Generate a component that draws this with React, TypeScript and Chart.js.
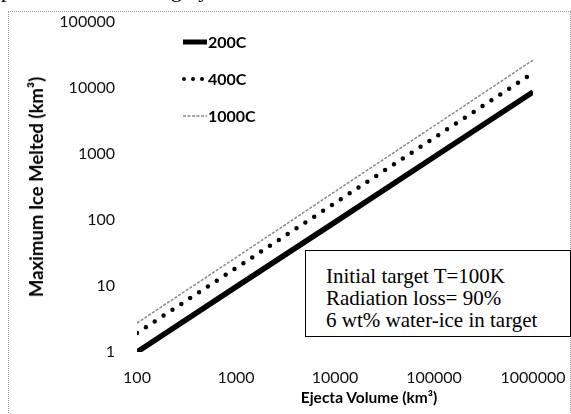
import React, { useEffect, useRef } from "react";
import { Chart, registerables } from "chart.js";

Chart.register(...registerables);

const ejectaVolume = [100, 1000, 10000, 100000, 1000000];
const ice200C = [1, 9.7, 93, 900, 8700];
const ice400C = [1.94, 18.7, 181, 1750, 16900];
const ice1000C = [2.75, 27, 270, 2660, 26500];
const seriesLabels = ["200C", "400C", "1000C"];
const yTickValues = [1, 10, 100, 1000, 10000, 100000];
const xTickValues = [100, 1000, 10000, 100000, 1000000];
const yTitle = "Maximum Ice Melted (km³)";
const xTitle = "Ejecta Volume (km³)";
const boxLines = ["Initial target T=100K", "Radiation loss= 90%", "6 wt% water-ice in target"];
const headerText = "potential ice melting by a factor of 25.";

const FONT = "Lato, 'Open Sans', sans-serif";

const zeroPad = (s: any) => {
  s.paddingTop = 0;
  s.paddingBottom = 0;
  s.paddingLeft = 0;
  s.paddingRight = 0;
};

export default function App() {
  const ref = useRef<HTMLCanvasElement | null>(null);

  useEffect(() => {
    if (!ref.current) return;
    const mk = (ys: number[]) => ejectaVolume.map((x, i) => ({ x, y: ys[i] }));
    const chart = new Chart(ref.current, {
      type: "line",
      data: {
        datasets: [
          {
            label: seriesLabels[2],
            data: mk(ice1000C),
            borderColor: "#8a8a8a",
            borderWidth: 1.5,
            borderDash: [3, 1.5],
            pointRadius: 0,
            tension: 0,
          },
          {
            label: seriesLabels[1],
            data: mk(ice400C),
            borderColor: "#000",
            borderWidth: 4.5,
            borderDash: [0, 10.6],
            borderCapStyle: "round",
            pointRadius: 0,
            tension: 0,
          },
          {
            label: seriesLabels[0],
            data: mk(ice200C),
            borderColor: "#000",
            borderWidth: 5.5,
            pointRadius: 0,
            tension: 0,
          },
        ],
      },
      options: {
        animation: false,
        responsive: false,
        layout: { padding: { left: 0, top: 22, right: 38, bottom: 0 } },
        plugins: { legend: { display: false }, tooltip: { enabled: false } },
        scales: {
          x: {
            type: "logarithmic",
            min: 100,
            max: 1000000,
            border: { display: false },
            grid: { display: false, drawTicks: false },
            afterBuildTicks: (s: any) => {
              s.ticks = xTickValues.map((v) => ({ value: v }));
            },
            afterFit: (s: any) => {
              s.height = 62;
              zeroPad(s);
            },
            ticks: {
              padding: 16,
              color: "#111",
              maxRotation: 0,
              font: { family: FONT, size: 16 },
              callback: (v: any) => String(v),
            },
          },
          y: {
            type: "logarithmic",
            min: 1,
            max: 100000,
            border: { display: false },
            grid: { display: false, drawTicks: false },
            afterBuildTicks: (s: any) => {
              s.ticks = yTickValues.map((v) => ({ value: v }));
            },
            afterFit: (s: any) => {
              s.width = 137;
              zeroPad(s);
            },
            ticks: {
              padding: 22,
              color: "#111",
              font: { family: FONT, size: 16 },
              callback: (v: any) => String(v),
            },
          },
        },
      },
    });
    return () => chart.destroy();
  }, []);

  const legendRow = (top: number, label: string, sample: React.ReactNode) => (
    <div style={{ position: "absolute", left: 182, top: top - 11, height: 22, display: "flex", alignItems: "center" }}>
      <svg width={26} height={10} style={{ display: "block" }}>{sample}</svg>
      <span style={{ fontFamily: FONT, fontWeight: 700, fontSize: 16, color: "#000", lineHeight: "22px" }}>{label}</span>
    </div>
  );

  return (
    <div style={{ position: "fixed", left: 0, top: 0, width: 571, height: 414, background: "#fff", overflow: "hidden" }}>
      <div
        style={{
          position: "absolute",
          left: 1,
          top: -21,
          fontFamily: "'Liberation Serif', 'Times New Roman', serif",
          fontSize: 22,
          lineHeight: "22px",
          whiteSpace: "nowrap",
          color: "#000",
        }}
      >
        {headerText}
      </div>
      <div
        style={{
          position: "absolute",
          left: 8,
          top: 11,
          width: 561,
          height: 420,
          border: "1px dotted #9a9a9a",
        }}
      />
      <canvas ref={ref} width={571} height={414} style={{ position: "absolute", left: 0, top: 0 }} />
      {legendRow(42, seriesLabels[0], <line x1={1} y1={5} x2={25} y2={5} stroke="#000" strokeWidth={5} />)}
      {legendRow(
        79,
        seriesLabels[1],
        <line x1={2} y1={5} x2={24} y2={5} stroke="#000" strokeWidth={4} strokeDasharray="0 9" strokeLinecap="round" />
      )}
      {legendRow(116, seriesLabels[2], <line x1={1} y1={5} x2={25} y2={5} stroke="#8a8a8a" strokeWidth={1.5} strokeDasharray="3 1.5" />)}
      <div
        style={{
          position: "absolute",
          left: 36,
          top: 187,
          transform: "translate(-50%, -50%) rotate(-90deg)",
          fontFamily: FONT,
          fontWeight: 700,
          fontSize: 18.5,
          whiteSpace: "nowrap",
          color: "#000",
        }}
      >
        {yTitle}
      </div>
      <div
        style={{
          position: "absolute",
          left: 369,
          top: 397,
          transform: "translate(-50%, -50%)",
          fontFamily: FONT,
          fontWeight: 700,
          fontSize: 15.5,
          whiteSpace: "nowrap",
          color: "#000",
        }}
      >
        {xTitle}
      </div>
      <div
        style={{
          position: "absolute",
          left: 305,
          top: 250,
          width: 266,
          height: 87,
          boxSizing: "border-box",
          border: "1.5px solid #000",
          background: "#fff",
          paddingLeft: 20,
          paddingTop: 14,
          fontFamily: "'Liberation Serif', 'Times New Roman', serif",
          fontSize: 21,
          lineHeight: "22px",
          color: "#000",
        }}
      >
        {boxLines.map((t, i) => (
          <div key={i} style={{ whiteSpace: "nowrap" }}>{t}</div>
        ))}
      </div>
    </div>
  );
}
